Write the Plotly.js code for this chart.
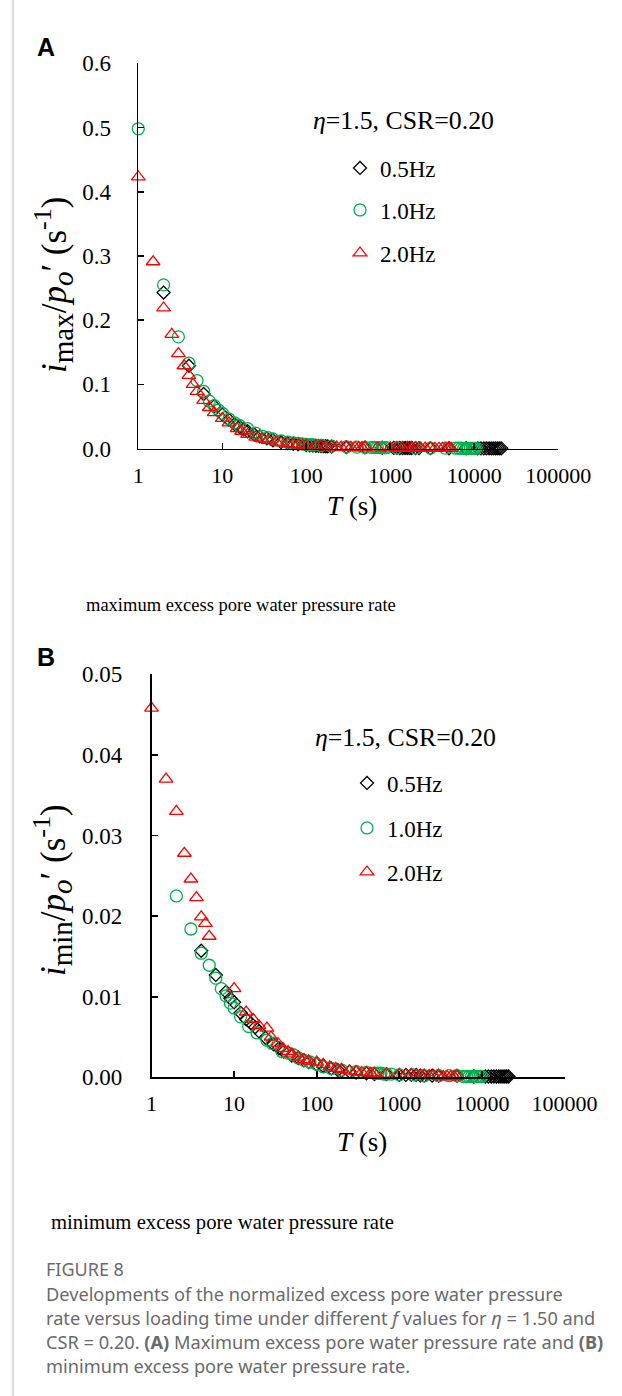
<!DOCTYPE html>
<html>
<head>
<meta charset="utf-8">
<script src="https://cdn.plot.ly/plotly-3.0.1.min.js"></script>
<style>
html,body{margin:0;padding:0;background:#fff;}
#chart{width:622px;height:1396px;}
</style>
</head>
<body>
<div id="chart"></div>
<script>
// ---------- Panel A: maximum excess pore water pressure rate ----------
const A_T_05 = [2,4,6,8,10,12,14,16,18,20,24,28,34,40,50,60,70,80,100,110,120,130,140,150,160,170,180,200,300,500,800,1100,1200,1300,1400,1500,1600,1700,1800,2000,2200,3000,5000,8000,11000,12000,13000,14000,15000,16000,17000,18000,19000,20000,21000];
const A_V_05 = [0.243,0.129,0.085,0.066,0.053,0.045,0.038,0.034,0.030,0.027,0.022,0.019,0.016,0.013,0.010,0.0085,0.0075,0.0065,0.0055,0.005,0.0048,0.0045,0.0042,0.004,0.0038,0.0036,0.0035,0.0032,0.0024,0.0018,0.0014,0.0011,0.0011,0.001,0.001,0.001,0.0009,0.0009,0.0009,0.0008,0.0008,0.0007,0.0006,0.0005,0.0004,0.0004,0.0004,0.0004,0.0004,0.0004,0.0003,0.0003,0.0003,0.0003,0.0003];
const A_T_10 = [1,2,3,4,5,6,7,8,9,10,12,14,16,20,25,30,35,40,50,60,70,80,90,100,110,120,150,200,300,400,500,600,650,700,750,800,850,900,1200,2000,3000,4500,6000,6500,7000,7500,8000,8500,9000,9500,10000,10500];
const A_V_10 = [0.498,0.255,0.174,0.133,0.106,0.089,0.074,0.067,0.060,0.055,0.046,0.040,0.036,0.031,0.024,0.019,0.017,0.015,0.012,0.010,0.009,0.008,0.0072,0.0065,0.006,0.0056,0.0048,0.0038,0.0028,0.0023,0.002,0.0018,0.0017,0.0016,0.0016,0.0015,0.0015,0.0014,0.0012,0.001,0.0008,0.0007,0.0006,0.0006,0.0006,0.0005,0.0005,0.0005,0.0005,0.0005,0.0004,0.0004];
const A_T_20 = [1,1.5,2,2.5,3,3.5,4,4.5,5,6,7,8,10,12,15,17,20,25,30,35,44,50,60,70,80,90,100,130,150,170,200,230,260,300,340,380,420,460,500,700,1000,1200,1400,1600,1800,2000,2300,2600,3000,3400,3800,4200,4600,5000,5300];
const A_V_20 = [0.423,0.291,0.219,0.178,0.148,0.129,0.114,0.100,0.089,0.075,0.064,0.056,0.047,0.040,0.031,0.027,0.022,0.018,0.015,0.013,0.010,0.0088,0.0075,0.0065,0.0058,0.0052,0.0047,0.0038,0.0034,0.003,0.0027,0.0024,0.0022,0.002,0.0018,0.0017,0.0016,0.0015,0.0014,0.0012,0.001,0.0009,0.0009,0.0008,0.0008,0.0008,0.0007,0.0007,0.0007,0.0006,0.0006,0.0006,0.0006,0.0005,0.0005];

// ---------- Panel B: minimum excess pore water pressure rate ----------
const B_T_05 = [4,6,8,9,10,12,14,16,18,20,24,30,35,40,50,60,70,80,100,120,150,180,200,250,300,400,500,700,1000,1200,1400,1600,1800,2000,2500,3000,5000,8000,11000,12000,13000,14000,15000,16000,17000,18000,19000,20000,21000];
const B_V_05 = [0.0157,0.0127,0.0106,0.0098,0.0093,0.0080,0.0072,0.0067,0.0062,0.0057,0.0049,0.0041,0.0036,0.0032,0.0027,0.0024,0.0021,0.0019,0.0016,0.0014,0.0011,0.0009,0.0008,0.0007,0.0006,0.0005,0.0004,0.0004,0.0003,0.0003,0.0003,0.0003,0.0002,0.0002,0.0002,0.0002,0.0002,0.0001,0.0001,0.0001,0.0001,0.0001,0.0001,0.0001,0.0001,0.0001,0.0001,0.0001,0.0001];
const B_T_10 = [2,3,4,5,6,7,8,9,10,12,15,19,25,29,38,45,52,60,70,83,100,120,150,200,300,400,500,550,600,650,700,800,1000,1500,2000,3000,4000,5000,6000,6500,7000,7500,8000,8500,9000,9500,10000];
const B_V_10 = [0.0225,0.0184,0.0154,0.0139,0.0123,0.0110,0.0101,0.0092,0.0086,0.0075,0.0063,0.0055,0.0046,0.0042,0.0032,0.0030,0.0028,0.0024,0.0021,0.0019,0.0016,0.0013,0.0011,0.0009,0.0007,0.0006,0.0005,0.0005,0.0005,0.0004,0.0004,0.0004,0.0003,0.0003,0.0002,0.0002,0.0002,0.0002,0.0001,0.0001,0.0001,0.0001,0.0001,0.0001,0.0001,0.0001,0.0001];
const B_T_20 = [1,1.5,2,2.5,3,3.5,4,4.5,5,10,14,17,20,25,28,34,39,45,50,60,70,80,100,120,144,170,200,250,300,350,400,450,500,700,1000,1200,1400,1600,1800,2000,2300,2600,3000,3400,3800,4200,4600,5000];
const B_V_20 = [0.0458,0.0370,0.0330,0.0278,0.0246,0.0223,0.0199,0.0191,0.0175,0.0110,0.0081,0.0072,0.0064,0.0061,0.0050,0.0042,0.0036,0.0032,0.0029,0.0025,0.0022,0.0020,0.0019,0.0016,0.0013,0.0011,0.0010,0.0008,0.0007,0.0006,0.0006,0.0005,0.0005,0.0004,0.0003,0.0003,0.0003,0.0002,0.0002,0.0002,0.0002,0.0002,0.0001,0.0001,0.0001,0.0001,0.0001,0.0001];

const seriesNames = ['0.5Hz','1.0Hz','2.0Hz'];
const xTickVals = [1,10,100,1000,10000,100000];
const xTickText = ['1','10','100','1000','10000','100000'];
const A_yTickVals = [0,0.1,0.2,0.3,0.4,0.5,0.6];
const A_yTickText = ['0.0','0.1','0.2','0.3','0.4','0.5','0.6'];
const B_yTickVals = [0,0.01,0.02,0.03,0.04,0.05];
const B_yTickText = ['0.00','0.01','0.02','0.03','0.04','0.05'];

// ---------- layout helpers ----------
const W = 622, H = 1396;
const px = x => x / W;
const py = y => 1 - y / H;
const SERIF = 'Liberation Serif';
const SANS = 'Noto Sans';

const styles = [
  {symbol:'diamond-open', color:'#000000', size:10},
  {symbol:'circle-open', color:'#00b050', size:12},
  {symbol:'triangle-up-open', color:'#ff0000', size:12}
];

function mk(T, V, i, xa, ya, leg) {
  return {
    x: T, y: V, type:'scatter', mode:'markers', name: seriesNames[i],
    xaxis: xa, yaxis: ya, legend: leg, showlegend: true,
    marker: {symbol: styles[i].symbol, size: styles[i].size, color: styles[i].color,
             line:{color: styles[i].color, width:1.3}},
    cliponaxis: false, hoverinfo:'skip'
  };
}

const data = [
  mk(A_T_05, A_V_05, 0, 'x', 'y', 'legend'),
  mk(A_T_10, A_V_10, 1, 'x', 'y', 'legend2'),
  mk(A_T_20, A_V_20, 2, 'x', 'y', 'legend3'),
  mk(B_T_05, B_V_05, 0, 'x2', 'y2', 'legend4'),
  mk(B_T_10, B_V_10, 1, 'x2', 'y2', 'legend5'),
  mk(B_T_20, B_V_20, 2, 'x2', 'y2', 'legend6')
];

function xax(d0, d1, anchor) {
  return {
    type:'log', range:[0,5], domain:[d0,d1], anchor: anchor,
    showline:true, linecolor:'#000', linewidth:1.6, mirror:false,
    ticks:'inside', ticklen:6, tickwidth:1.6, tickcolor:'#000',
    tickmode:'array', tickvals: xTickVals, ticktext: xTickText,
    tickfont:{family:SERIF, size:22, color:'#000'},
    ticklabelstandoff: 6,
    showgrid:false, zeroline:false, fixedrange:true
  };
}
function yax(d0, d1, anchor, rng, vals, txt, standoff) {
  return {
    range: rng, domain:[d0,d1], anchor: anchor,
    showline:true, linecolor:'#000', linewidth:1.6,
    ticks:'inside', ticklen:6, tickwidth:1.6, tickcolor:'#000',
    tickmode:'array', tickvals: vals, ticktext: txt,
    tickfont:{family:SERIF, size:23, color:'#000'},
    ticklabelstandoff: standoff,
    showgrid:false, zeroline:false, fixedrange:true
  };
}

function leg(x, y) {
  return {x: px(x), y: py(y), xanchor:'left', yanchor:'middle', xref:'paper', yref:'paper',
          bgcolor:'rgba(0,0,0,0)', borderwidth:0, font:{family:SERIF, size:23, color:'#000'},
          itemclick:false, itemdoubleclick:false};
}

function ann(text, x, y, opts) {
  return Object.assign({text: text, x: px(x), y: py(y), xref:'paper', yref:'paper',
    showarrow:false, xanchor:'left', yanchor:'middle',
    font:{family:SERIF, size:22, color:'#000'}}, opts || {});
}

const capColor = '#6a6a6a';
const capFont = {family:SANS, size:18.2, color:capColor};
const panelFont = {family:'Liberation Sans', size:25, color:'#000'};
const ytFont = {family:SERIF, size:35, color:'#000'};
const subS = s => '<sub><span style="font-size:29px">' + s + '</span></sub>';
const supS = s => '<sup><span style="font-size:26px">' + s + '</span></sup>';

const annotations = [
  ann('<b>A</b>', 35, 47, {font:panelFont}),
  ann('<b>B</b>', 35, 657, {font:panelFont}),
  ann('<i>i</i>' + subS('max') + '/<i>p</i>' + subS('<i>o</i>') + '\u2032 (s' + supS('-1') + ')', 53, 285, {textangle:-90, xanchor:'center', yanchor:'middle', font:ytFont}),
  ann('<i>i</i>' + subS('min') + '/<i>p</i>' + subS('<i>o</i>') + '\u2032 (s' + supS('-1') + ')', 53, 890, {textangle:-90, xanchor:'center', yanchor:'middle', font:ytFont}),
  ann('<i>\u03b7</i>=1.5, CSR=0.20', 311, 120, {font:{family:SERIF, size:25.8, color:'#000'}}),
  ann('<i>\u03b7</i>=1.5, CSR=0.20', 313, 737, {font:{family:SERIF, size:25.8, color:'#000'}}),
  ann('<i>T</i> (s)', 352, 506, {xanchor:'center', font:{family:SERIF, size:27, color:'#000'}}),
  ann('<i>T</i> (s)', 362, 1142, {xanchor:'center', font:{family:SERIF, size:27, color:'#000'}}),
  ann('maximum excess pore water pressure rate', 84, 605, {font:{family:SERIF, size:18.5, color:'#000'}}),
  ann('minimum excess pore water pressure rate', 49, 1222, {font:{family:SERIF, size:20.7, color:'#000'}}),
  ann('FIGURE 8', 44, 1269, {font:{family:SANS, size:18, color:capColor}}),
  ann('Developments of the normalized excess pore water pressure', 44, 1294, {font:capFont}),
  ann('rate versus loading time under different <i>f</i> values for <i>\u03b7</i> = 1.50 and', 44, 1318, {font:capFont}),
  ann('CSR = 0.20. <b>(A)</b> Maximum excess pore water pressure rate and <b>(B)</b>', 44, 1342, {font:capFont}),
  ann('minimum excess pore water pressure rate.', 44, 1366, {font:capFont})
];

const layout = {
  width: W, height: H,
  margin:{l:0, r:0, t:0, b:0},
  paper_bgcolor:'#fff', plot_bgcolor:'rgba(0,0,0,0)',
  font:{family:SERIF, color:'#000'},
  xaxis: xax(px(138.3), px(558.3), 'y'),
  yaxis: yax(py(448.6), py(63.3), 'x', [0,0.6], A_yTickVals, A_yTickText, 21),
  xaxis2: xax(px(151.5), px(564.5), 'y2'),
  yaxis2: yax(py(1077.3), py(674.3), 'x2', [0,0.05], B_yTickVals, B_yTickText, 23),
  legend: leg(340, 168),
  legend2: leg(340, 210),
  legend3: leg(340, 253),
  legend4: leg(347, 783),
  legend5: leg(347, 828),
  legend6: leg(347, 872),
  annotations: annotations,
  shapes: [
    {type:'line', xref:'paper', yref:'paper', x0:px(13), x1:px(13), y0:0, y1:1, line:{color:'#cfcfcf', width:1.5}}
  ]
};

Plotly.newPlot('chart', data, layout, {staticPlot:true, displayModeBar:false});
</script>
</body>
</html>
